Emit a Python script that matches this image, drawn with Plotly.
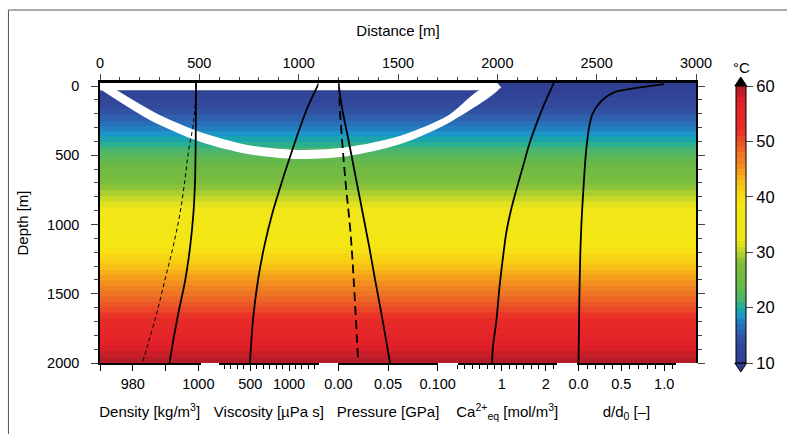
import plotly.graph_objects as go

# ---------------- data ----------------
# Temperature field (°C) across the section, varying with depth (m)
temp_depth = [-25, 0, 250, 500, 750, 1000, 1250, 1500, 1750, 2000]
temp_c = [9.4, 10, 16, 22.5, 29, 35, 41, 47.5, 54, 60]
section_x = [0, 3000]

# Reservoir outline: top lid and bowl band (distance m, depth m)
lid_x = [0, 2000, 2020, 2000, 0]
lid_depth = [-22, -22, 10, 30, 30]
bowl_outer_x = [0, 250, 500, 750, 1000, 1250, 1500, 1750, 2005]
bowl_outer_depth = [22, 245, 400, 492, 527, 505, 425, 270, 22]
bowl_inner_x = [75, 300, 500, 750, 1000, 1250, 1500, 1750, 1920]
bowl_inner_depth = [22, 210, 330, 428, 462, 440, 365, 215, 22]

# Profiles against depth (m)
density_depth = [-21, 366, 679, 919, 1160, 1401, 1641, 1830, 2000]
density_bulk = [999.3, 999.2, 999.0, 998.5, 997.5, 996.0, 993.9, 992.4, 991.2]
density_w_depth = [-21, 250, 486, 679, 919, 1160, 1401, 1641, 1858, 2000]
density_water = [999.3, 998.6, 996.9, 995.9, 994.4, 992.3, 989.8, 987.3, 984.7, 982.9]

viscosity_depth = [-21, 173, 366, 558, 679, 919, 1160, 1401, 1690, 2000]
viscosity = [1385, 1225, 1100, 985, 915, 785, 680, 600, 535, 496]

pressure_depth = [-21, 173, 366, 679, 919, 1160, 1401, 1690, 2000]
pressure_lith = [0, 0.004, 0.0095, 0.018, 0.0245, 0.031, 0.037, 0.0445, 0.052]
pressure_h_depth = [-21, 123, 679, 1040, 1401, 1966]
pressure_hydro = [0, 0.001, 0.007, 0.012, 0.0154, 0.0197]

ca_depth = [-21, 125, 245, 414, 582, 750, 895, 1064, 1232, 1449, 1690, 1882, 2000]
ca_eq = [2.18, 1.97, 1.82, 1.63, 1.48, 1.33, 1.21, 1.10, 1.03, 0.95, 0.88, 0.80, 0.78]

dd0_depth = [-14, 41, 72, 113, 197, 294, 486, 727, 968, 1208, 1569, 2000]
dd0 = [1.0, 0.435, 0.338, 0.26, 0.165, 0.125, 0.086, 0.059, 0.036, 0.021, 0.009, 0.0]

distance_ticks = [0, 500, 1000, 1500, 2000, 2500, 3000]
depth_ticks = [0, 500, 1000, 1500, 2000]
temp_ticks = [10, 20, 30, 40, 50, 60]

# ---------------- styling ----------------
FONT = "Liberation Sans, Arial, Helvetica, sans-serif"
W, H = 787, 434
PL, PR, PT, PB = 100, 699, 83, 363          # plot area in pixels


def px_x(px):
    return (px - PL) / (PR - PL)


def px_y(py):
    return (PB - py) / (PB - PT)


colorscale = [
    [0.00, "rgb(47,62,145)"],
    [0.08, "rgb(52,76,158)"],
    [0.14, "rgb(40,115,190)"],
    [0.17, "rgb(28,150,200)"],
    [0.20, "rgb(25,172,160)"],
    [0.23, "rgb(75,180,110)"],
    [0.28, "rgb(105,185,70)"],
    [0.36, "rgb(125,190,60)"],
    [0.40, "rgb(185,210,45)"],
    [0.44, "rgb(240,230,25)"],
    [0.58, "rgb(245,230,20)"],
    [0.64, "rgb(248,200,20)"],
    [0.70, "rgb(243,150,30)"],
    [0.78, "rgb(236,95,38)"],
    [0.84, "rgb(232,45,40)"],
    [0.94, "rgb(225,32,40)"],
    [1.00, "rgb(175,28,40)"],
]

title_font = dict(family=FONT, size=15, color="black")
tickfont = dict(family=FONT, size=14.5, color="black")

fig = go.Figure()

# temperature field
fig.add_trace(go.Contour(
    x=section_x, y=temp_depth, z=[[t, t] for t in temp_c],
    colorscale=colorscale, zmin=10, zmax=60,
    autocontour=False,
    contours=dict(start=10, end=60, size=1, coloring="fill", showlines=False),
    line=dict(width=0),
    colorbar=dict(
        x=px_x(739), xanchor="left", xpad=0,
        y=0, yanchor="bottom", ypad=0,
        len=277, lenmode="pixels", thickness=10, thicknessmode="pixels",
        outlinewidth=1, outlinecolor="black",
        tickvals=temp_ticks, ticks="outside", ticklen=7, tickwidth=1,
        tickfont=dict(family=FONT, size=16.5, color="black"),
    ),
    hoverinfo="skip",
    xaxis="x", yaxis="y",
))

# reservoir lid and bowl
fig.add_trace(go.Scatter(
    x=lid_x, y=lid_depth, fill="toself", fillcolor="white",
    mode="lines", line=dict(width=0, color="white"),
    hoverinfo="skip", xaxis="x", yaxis="y",
))
fig.add_trace(go.Scatter(
    x=bowl_outer_x + bowl_inner_x[::-1],
    y=bowl_outer_depth + bowl_inner_depth[::-1],
    fill="toself", fillcolor="white",
    mode="lines", line=dict(width=0, color="white", shape="spline", smoothing=0.8),
    hoverinfo="skip", xaxis="x", yaxis="y",
))

solid = dict(color="black", width=1.8, shape="spline", smoothing=0.8)

fig.add_trace(go.Scatter(x=density_water, y=density_w_depth, mode="lines",
                         line=dict(color="black", width=1, dash="4px,3px", shape="spline"),
                         xaxis="x2", yaxis="y"))
fig.add_trace(go.Scatter(x=density_bulk, y=density_depth, mode="lines",
                         line=solid, xaxis="x2", yaxis="y"))
fig.add_trace(go.Scatter(x=viscosity, y=viscosity_depth, mode="lines",
                         line=solid, xaxis="x3", yaxis="y"))
fig.add_trace(go.Scatter(x=pressure_hydro, y=pressure_h_depth, mode="lines",
                         line=dict(color="black", width=1.8, dash="9px,5px", shape="spline"),
                         xaxis="x4", yaxis="y"))
fig.add_trace(go.Scatter(x=pressure_lith, y=pressure_depth, mode="lines",
                         line=solid, xaxis="x4", yaxis="y"))
fig.add_trace(go.Scatter(x=ca_eq, y=ca_depth, mode="lines",
                         line=solid, xaxis="x5", yaxis="y"))
fig.add_trace(go.Scatter(x=dd0, y=dd0_depth, mode="lines",
                         line=solid, xaxis="x6", yaxis="y"))


def bottom_axis(k, title, rng, tickvals, ticktext, minor=None):
    d0 = 0.2 * k
    ax = dict(
        domain=[d0, d0 + 1 / 6], range=rng, anchor="y", side="bottom",
        showline=True, linewidth=2, linecolor="black",
        ticks="outside", ticklen=6, tickwidth=1.2, tickcolor="black",
        tickmode="array", tickvals=tickvals, ticktext=ticktext,
        tickfont=tickfont, ticklabelstandoff=1,
        title=dict(text=title, font=title_font, standoff=15),
        automargin=False,
        showgrid=False, zeroline=False, fixedrange=True,
    )
    if minor:
        ax["minor"] = dict(ticks="outside", tickwidth=1, tickcolor="black", **minor)
    return ax


fig.update_layout(
    width=W, height=H,
    margin=dict(l=PL, r=W - PR, t=PT, b=H - PB),
    paper_bgcolor="white", plot_bgcolor="rgba(0,0,0,0)",
    showlegend=False,
    font=dict(family=FONT, size=14.5, color="black"),
    xaxis=dict(
        domain=[0, 1], range=[0, 3000], side="top", anchor="y",
        tickvals=distance_ticks, ticks="outside", ticklen=6, tickwidth=1.2,
        minor=dict(dtick=100, ticks="outside", ticklen=3.5, tickwidth=1),
        showline=True, linewidth=2.5, linecolor="black",
        tickfont=tickfont, ticklabelstandoff=0,
        title=dict(text="Distance [m]", font=title_font, standoff=16),
        automargin=False,
        showgrid=False, zeroline=False,
    ),
    yaxis=dict(
        domain=[0, 1], range=[2000, -21.7], anchor="x", side="left",
        tickvals=depth_ticks, ticks="outside", ticklen=7, tickwidth=1.2,
        minor=dict(dtick=100, ticks="outside", ticklen=4, tickwidth=1),
        showline=True, linewidth=1.5, linecolor="black", mirror="ticks",
        tickfont=tickfont, ticklabelstandoff=9,
        title=dict(text="Depth [m]", font=title_font, standoff=15),
        automargin=False,
        showgrid=False, zeroline=False,
    ),
    xaxis2=bottom_axis(0, "Density [kg/m<sup>3</sup>]", [970, 1000.3],
                       [980, 1000], ["980", "1000"],
                       minor=dict(tickmode="array", tickvals=[970, 990], ticklen=6)),
    xaxis3=bottom_axis(1, "Viscosity [µPa s]", [100, 1380], [500, 1000], ["500", "1000"],
                       minor=dict(tick0=0, dtick=500 / 6, ticklen=4)),
    xaxis4=bottom_axis(2, "Pressure [GPa]", [0, 0.1], [0, 0.05, 0.1],
                       ["0.00", "0.05", "0.100"]),
    xaxis5=bottom_axis(3, "Ca<sup>2+</sup><sub>eq</sub> [mol/m<sup>3</sup>]", [0, 2.25],
                       [1, 2], ["1", "2"],
                       minor=dict(tick0=0, dtick=1 / 6, ticklen=4)),
    xaxis6=bottom_axis(4, "d/d<sub>0</sub> [–]", [-0.02, 1.14], [0, 0.5, 1.0],
                       ["0.0", "0.5", "1.0"],
                       minor=dict(tick0=0, dtick=0.1, ticklen=4)),
)

# colour bar unit label
fig.add_annotation(text="°C", x=px_x(745), y=px_y(68), xref="paper", yref="paper",
                   xanchor="center", yanchor="middle", showarrow=False, font=title_font)

# colour bar end arrows and the outer frame
cb_l, cb_r, cb_mid = px_x(738), px_x(750), px_x(744)
shapes = [
    dict(type="path", xref="paper", yref="paper",
         path=f"M {cb_l},{px_y(86)} L {cb_r},{px_y(86)} L {cb_mid},{px_y(77)} Z",
         fillcolor="black", line=dict(color="black", width=1)),
    dict(type="path", xref="paper", yref="paper",
         path=f"M {cb_l},{px_y(363)} L {cb_r},{px_y(363)} L {cb_mid},{px_y(372)} Z",
         fillcolor="rgb(47,62,145)", line=dict(color="black", width=1)),
    dict(type="line", xref="paper", yref="paper",
         x0=px_x(8), x1=px_x(8), y0=px_y(10), y1=px_y(440),
         line=dict(color="#555", width=1)),
    dict(type="line", xref="paper", yref="paper",
         x0=px_x(8), x1=px_x(800), y0=px_y(10), y1=px_y(10),
         line=dict(color="#555", width=1)),
]
fig.update_layout(shapes=shapes)

fig.write_html("out.html")
